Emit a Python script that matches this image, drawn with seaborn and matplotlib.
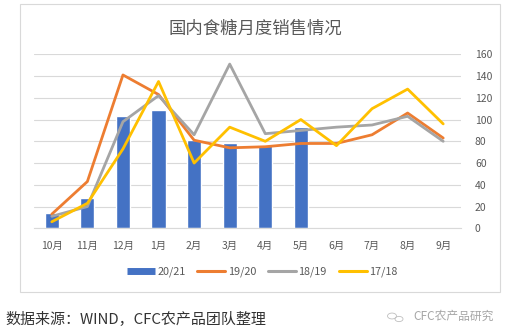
import matplotlib
matplotlib.use("Agg")
import matplotlib.pyplot as plt
from matplotlib.patches import Rectangle, Circle
from matplotlib.lines import Line2D
import seaborn as sns
import pandas as pd
import numpy as np

months = ["10月", "11月", "12月", "1月", "2月", "3月", "4月", "5月", "6月", "7月", "8月", "9月"]
sales_2021 = [14, 28, 103, 109, 81, 78, 77, 93]
sales_1920 = [13, 43, 141, 123, 81, 74, 75, 78, 78, 86, 106, 83]
sales_1819 = [11, 20, 98, 122, 86, 151, 87, 90, 93, 95, 103, 80]
sales_1718 = [6, 23, 73, 135, 60, 93, 80, 100, 76, 110, 128, 96]
yticks = [0, 20, 40, 60, 80, 100, 120, 140, 160]

line_series = {"19/20": sales_1920, "18/19": sales_1819, "17/18": sales_1718}
line_colors = {"19/20": "#ED7D31", "18/19": "#A5A5A5", "17/18": "#FFC000"}
bar_color = "#4472C4"
text_color = "#595959"

sns.set_theme(style="white")
plt.rcParams["font.family"] = ["Noto Sans CJK SC", "DejaVu Sans"]

fig = plt.figure(figsize=(5.12, 3.35), dpi=100)
fig.patch.set_facecolor("white")

# outer chart frame
fig.add_artist(Rectangle((20 / 512, 1 - 292 / 335), 480 / 512, 288 / 335,
                         transform=fig.transFigure, fill=False,
                         edgecolor="#D9D9D9", linewidth=0.8))

ax = fig.add_axes([34 / 512, 1 - 228.3 / 335, 427 / 512, 174 / 335])

bar_df = pd.DataFrame({"月份": months[:len(sales_2021)], "销量": sales_2021})
sns.barplot(data=bar_df, x="月份", y="销量", color=bar_color, width=0.4,
            saturation=1, ax=ax, zorder=2)

line_df = pd.concat([
    pd.DataFrame({"pos": np.arange(len(v)), "销量": v, "年度": k})
    for k, v in line_series.items()
])
sns.lineplot(data=line_df, x="pos", y="销量", hue="年度",
             palette=line_colors, linewidth=2.0, ax=ax, legend=False,
             zorder=3, sort=False)

ax.set_xlim(-0.5, 11.5)
ax.set_ylim(0, 160)
ax.set_xticks(range(len(months)))
ax.set_xticklabels(months)
ax.set_yticks(yticks)
ax.yaxis.tick_right()
ax.tick_params(axis="both", length=0, labelsize=7.5, colors=text_color)
ax.tick_params(axis="y", pad=10)
ax.tick_params(axis="x", pad=9)
ax.set_xlabel("")
ax.set_ylabel("")
ax.grid(axis="y", color="#D9D9D9", linewidth=0.8, zorder=0)
ax.set_axisbelow(True)
for s in ["top", "left", "right"]:
    ax.spines[s].set_visible(False)
ax.spines["bottom"].set_color("#D9D9D9")
ax.spines["bottom"].set_linewidth(0.8)

fig.text(255 / 512, 1 - 29 / 335, "国内食糖月度销售情况", ha="center", va="center",
         fontsize=12.5, color=text_color)

handles = [Line2D([0], [0], color=bar_color, linewidth=5, solid_capstyle="butt",
                  label="20/21")]
for k in line_series:
    handles.append(Line2D([0], [0], color=line_colors[k], linewidth=2.2,
                          solid_capstyle="round", label=k))
fig.legend(handles=handles, loc="center", bbox_to_anchor=(262 / 512, 1 - 272 / 335),
           ncol=4, frameon=False, fontsize=7.8, labelcolor=text_color,
           handlelength=2.6, handletextpad=0.2, columnspacing=1.1)

fig.text(5 / 512, 1 - 319 / 335, "数据来源：WIND，CFC农产品团队整理", ha="left",
         va="center", fontsize=10.8, color="#333333", style="italic")

# small logo next to the footer mark
for cx, cy, r in [(392, 316, 4.5), (399, 319, 4.0)]:
    fig.add_artist(Circle((cx / 512, 1 - cy / 335), r / 512, transform=fig.transFigure,
                          fill=False, edgecolor="#BFBFBF", linewidth=0.6))
fig.text(413 / 512, 1 - 316 / 335, "CFC农产品研究", ha="left", va="center",
         fontsize=8.5, color="#A6A6A6")

fig.savefig("out.png", dpi=100)
